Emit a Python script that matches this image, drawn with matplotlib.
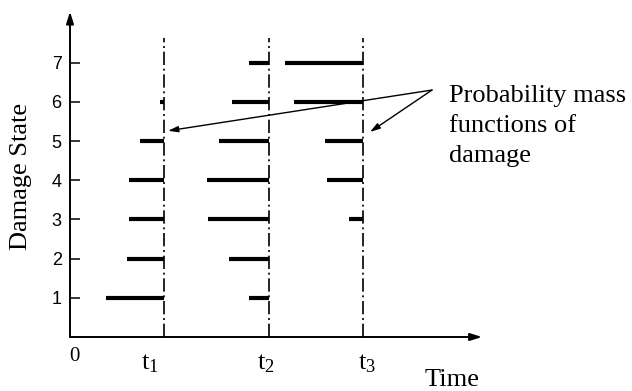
import matplotlib
matplotlib.use("Agg")
import matplotlib.pyplot as plt

plt.rcParams["mathtext.fontset"] = "custom"
plt.rcParams["mathtext.rm"] = "Liberation Serif"
plt.rcParams["mathtext.it"] = "Liberation Serif:italic"

SERIF = "Liberation Serif"
SANS = "Liberation Sans"

# Damage states on the vertical axis
states = [1, 2, 3, 4, 5, 6, 7]

# Inspection times on the horizontal axis
times = [0.94, 1.99, 2.93]
time_labels = [r"$\mathrm{t}_{1}$", r"$\mathrm{t}_{2}$", r"$\mathrm{t}_{3}$"]
time_label_x = [0.80, 1.96, 2.97]

# Probability mass of each damage state at each time (drawn as bar length to the left of the time line)
pmf_t1 = [0.58, 0.37, 0.35, 0.35, 0.24, 0.04, 0.00]
pmf_t2 = [0.20, 0.40, 0.61, 0.62, 0.50, 0.37, 0.20]
pmf_t3 = [0.00, 0.00, 0.14, 0.36, 0.38, 0.69, 0.78]
pmfs = [pmf_t1, pmf_t2, pmf_t3]

annotation_text = "Probability mass\nfunctions of\ndamage"

fig = plt.figure(figsize=(6.32, 3.91), dpi=100)
ax = fig.add_axes([70 / 632, 54 / 391, 412 / 632, 8.3 * 39.2 / 391])
ax.set_xlim(0, 4.12)
ax.set_ylim(0, 8.3)

for s in ax.spines.values():
    s.set_visible(False)

# Axes drawn as arrows
ax.annotate("", xy=(0, 1), xytext=(0, 0), xycoords="axes fraction",
            arrowprops=dict(arrowstyle="-|>,head_length=0.7,head_width=0.22",
                            lw=1.4, color="black", shrinkA=0, shrinkB=0))
ax.annotate("", xy=(1, 0), xytext=(0, 0), xycoords="axes fraction",
            arrowprops=dict(arrowstyle="-|>,head_length=0.7,head_width=0.22",
                            lw=1.4, color="black", shrinkA=0, shrinkB=0))

ax.set_xticks([])
ax.set_yticks(states)
ax.set_yticklabels([str(s) for s in states], fontfamily=SANS, fontsize=13)
ax.tick_params(axis="y", direction="in", length=7, width=1.1, pad=6, color="black")

# Dash-dot time lines and PMF bars
for t, pmf in zip(times, pmfs):
    ax.plot([t, t], [0, 7.63], color="black", lw=1.2,
            linestyle=(0, (8, 2.2, 1.2, 2.2)))
    for s, p in zip(states, pmf):
        if p > 0:
            ax.hlines(s, t - p, t, color="black", lw=3)

# Time labels
ax.text(0.04, -0.50, "0", fontfamily=SERIF, fontsize=15, ha="center", va="center")
for x, lab in zip(time_label_x, time_labels):
    ax.text(x, -0.66, lab, fontsize=19, ha="center", va="center")
ax.text(3.82, -1.10, "Time", fontfamily=SERIF, fontsize=19, ha="center", va="center",
        clip_on=False)

fig.text(21 / 632, 1 - 176 / 391, "Damage State", fontfamily=SERIF, fontsize=19,
         rotation=90, ha="center", va="center")

# Callout pointing at two of the PMFs
vertex = (3.62, 6.30)
for target in [(0.98, 5.26), (3.00, 5.23)]:
    ax.annotate("", xy=target, xytext=vertex,
                arrowprops=dict(arrowstyle="-|>,head_length=0.6,head_width=0.18",
                                lw=1.0, color="black", shrinkA=0, shrinkB=0))
ax.text(3.79, 5.38, annotation_text, fontfamily=SERIF, fontsize=19,
        ha="left", va="center", linespacing=1.48, clip_on=False)

fig.savefig("out.png", dpi=100)
